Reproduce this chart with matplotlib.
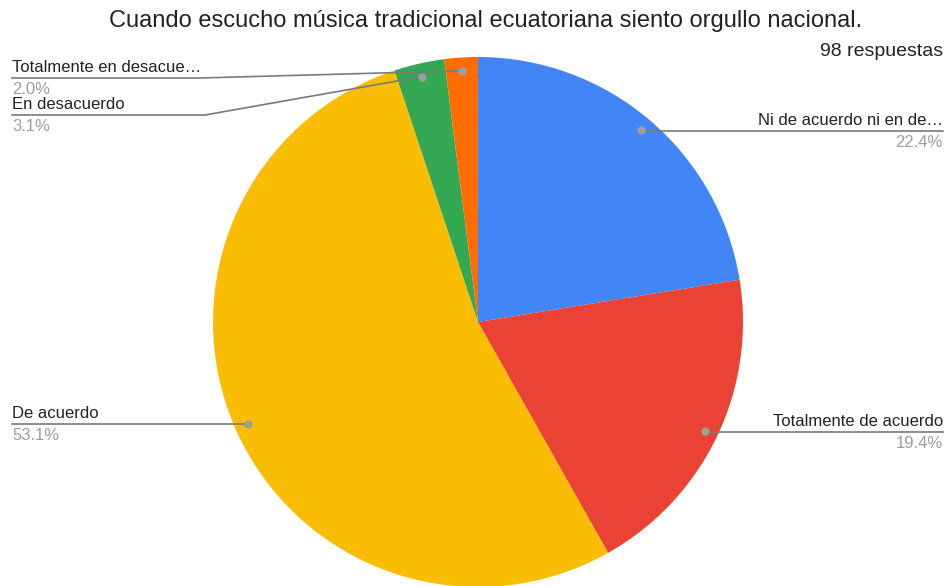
import numpy as np
import matplotlib
matplotlib.use("Agg")
import matplotlib.pyplot as plt

title = "Cuando escucho música tradicional ecuatoriana siento orgullo nacional."
subtitle = "98 respuestas"
labels = ["Ni de acuerdo ni en de\u2026", "Totalmente de acuerdo", "De acuerdo",
          "En desacuerdo", "Totalmente en desacue\u2026"]
counts = [22, 19, 52, 3, 2]
colors = ["#4285F4", "#EA4335", "#FBBC04", "#34A853", "#FF6D01"]

W, H = 947, 586
plt.rcParams['font.family'] = ['Liberation Sans', 'DejaVu Sans']
fig = plt.figure(figsize=(W / 100, H / 100), dpi=100)
ax = fig.add_axes([0, 0, 1, 1])

cx, cy, R = 478, H - 322, 265
wedges, _ = ax.pie(counts, colors=colors, startangle=90, counterclock=False,
                   center=(cx, cy), radius=R, frame=True,
                   wedgeprops=dict(linewidth=0))
ax.set_xlim(0, W)
ax.set_ylim(0, H)
ax.set_aspect('equal')
ax.axis('off')

total = sum(counts)
line_c = "#7a7a7a"
spec = {
    0: ("right", 131, None),
    1: ("right", 432, None),
    2: ("left", 424, None),
    3: ("left", 115, 205),
    4: ("left", 78, 200),
}
fs = 12
for i, w in enumerate(wedges):
    mid = np.deg2rad((w.theta1 + w.theta2) / 2)
    dx, dy = cx + 0.95 * R * np.cos(mid), cy + 0.95 * R * np.sin(mid)
    ax.plot(dx, dy, 'o', color="#9e9e9e", ms=5, zorder=5)
    side, ly, elbow = spec[i]
    ly = H - ly
    pct = f"{counts[i] / total * 100:.1f}%"
    if side == "right":
        ax.plot([dx, 943], [ly, ly], color=line_c, lw=1.2, zorder=4)
        ax.text(943, ly + 3, labels[i], ha='right', va='bottom', fontsize=fs, color="#222222")
        ax.text(943, ly - 4, pct, ha='right', va='top', fontsize=fs, color="#9e9e9e")
    else:
        if elbow is not None:
            ax.plot([12, elbow, dx], [ly, ly, dy], color=line_c, lw=1.2, zorder=4)
        else:
            ax.plot([12, dx], [ly, ly], color=line_c, lw=1.2, zorder=4)
        ax.text(12, ly + 3, labels[i], ha='left', va='bottom', fontsize=fs, color="#222222")
        ax.text(12, ly - 4, pct, ha='left', va='top', fontsize=fs, color="#9e9e9e")

fig.text(486 / W, 1 - 21 / H, title, ha='center', va='center', fontsize=17, color="#222222")
fig.text(943 / W, 1 - 51 / H, subtitle, ha='right', va='center', fontsize=14, color="#222222")

fig.savefig("out.png", dpi=100, facecolor='white')
